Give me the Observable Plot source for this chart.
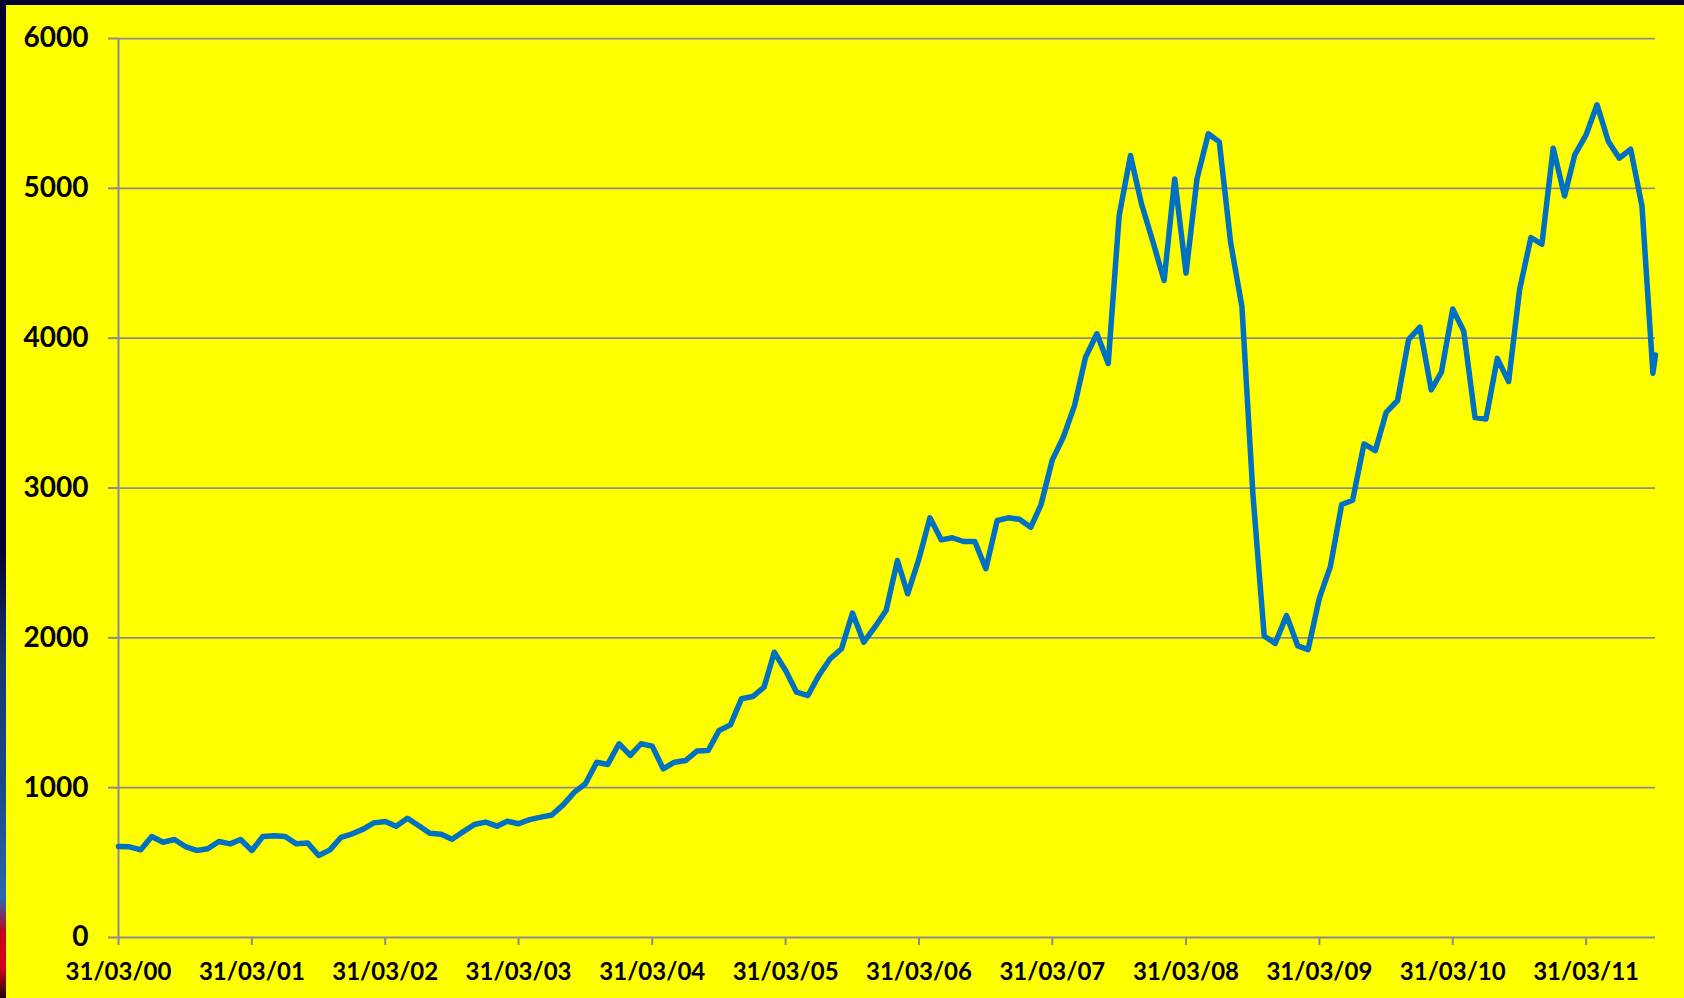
<!DOCTYPE html>
<html>
<head>
<meta charset="utf-8">
<script src="https://cdn.jsdelivr.net/npm/d3@7"></script>
<script src="https://cdn.jsdelivr.net/npm/@observablehq/plot@0.6"></script>
<style>
  html, body { margin: 0; padding: 0; }
  body { width: 1684px; height: 998px; position: relative; overflow: hidden; background: #ffff00; }
  #chart { position: absolute; left: 0; top: 0; }
  #topBorder { position: absolute; left: 0; top: 0; width: 1684px; height: 5px; background: #06002e; }
  #leftBorder { position: absolute; left: 0; top: 0; width: 6px; height: 998px;
    background: linear-gradient(to bottom, #06002e 0%, #06002e 55%, #163670 66%, #1d4a8e 80%, #2b66b0 90%, #c4001c 93.5%, #d0001e 97%, #1a0a10 100%); }
</style>
</head>
<body>
<div id="chart"></div>
<div id="topBorder"></div>
<div id="leftBorder"></div>
<script>
// Monthly end-of-month values from 31/03/2000 to 30/09/2011
const firstDate = "2000-03-31";
const lastExtraDate = "2011-10-07";
const monthlyValues = [
  607, 605, 585, 674, 636, 654, 607, 581, 592, 641, 625, 654,      // 2000-03 .. 2001-02
  581, 674, 679, 674, 625, 630, 547, 585, 669, 692, 725, 765,      // 2001-03 .. 2002-02
  774, 743, 796, 747, 696, 689, 656, 707, 754, 770, 743, 776,      // 2002-03 .. 2003-02
  759, 787, 803, 818, 885, 970, 1026, 1170, 1155, 1293, 1215, 1293,// 2003-03 .. 2004-02
  1277, 1126, 1170, 1181, 1244, 1248, 1382, 1419, 1593, 1608, 1671, 1904, // 2004-03 .. 2005-02
  1782, 1637, 1615, 1749, 1860, 1927, 2165, 1971, 2071, 2182, 2516, 2294, // 2005-03 .. 2006-02
  2527, 2801, 2654, 2668, 2643, 2643, 2461, 2783, 2801, 2791, 2738, 2888, // 2006-03 .. 2007-02
  3188, 3339, 3551, 3873, 4029, 3831, 4819, 5219, 4897, 4647, 4385, 5063, // 2007-03 .. 2008-02
  4434, 5063, 5364, 5310, 4640, 4210, 2960, 2012, 1963, 2149, 1946, 1921, // 2008-03 .. 2009-02
  2265, 2475, 2890, 2918, 3294, 3249, 3505, 3584, 3990, 4074, 3655, 3773, // 2009-03 .. 2010-02
  4195, 4048, 3470, 3460, 3865, 3710, 4324, 4672, 4627, 5268, 4949, 5223, // 2010-03 .. 2011-02
  5357, 5558, 5313, 5201, 5261, 4882, 3766                               // 2011-03 .. 2011-09
];
const lastExtraValue = 3888;

const yTicks = [0, 1000, 2000, 3000, 4000, 5000, 6000];
const xTickYears = [2000, 2001, 2002, 2003, 2004, 2005, 2006, 2007, 2008, 2009, 2010, 2011];

// Build the table
const start = new Date(firstDate + "T00:00:00Z");
const monthStartAfter = d3.utcMonth.offset(start, 0);
const data = monthlyValues.map((v, i) => ({
  date: d3.utcDay.offset(d3.utcMonth.offset(new Date(Date.UTC(2000, 3, 1)), i), -1),
  value: v
}));
data.push({date: new Date(lastExtraDate + "T00:00:00Z"), value: lastExtraValue});

const xTicks = xTickYears.map(y => new Date(Date.UTC(y, 2, 31)));
const fmt = d3.utcFormat("%d/%m/%y");
const grid = "#8c8c8c";

const chart = Plot.plot({
  width: 1684,
  height: 998,
  marginLeft: 118,
  marginRight: 29,
  marginTop: 38,
  marginBottom: 61,
  style: {background: "transparent", fontFamily: "Lato, 'Open Sans', sans-serif", fontWeight: "bold", color: "black", overflow: "visible"},
  x: {type: "utc", domain: [start, new Date(lastExtraDate + "T00:00:00Z")]},
  y: {domain: [0, 6000]},
  marks: [
    Plot.ruleY(yTicks.filter(d => d > 0), {stroke: grid, strokeWidth: 1.75}),
    Plot.ruleY([0], {stroke: grid, strokeWidth: 2}),
    Plot.ruleX([start], {y1: 0, y2: 6000, stroke: grid, strokeWidth: 2}),
    Plot.axisY({ticks: yTicks, tickSize: 10, tickPadding: 20, tickFormat: d3.format("d"), label: null,
      fontSize: 28, fontWeight: "bold", stroke: grid, strokeWidth: 2, fill: "black"}),
    Plot.axisX({ticks: xTicks, tickSize: 8, tickPadding: 17, tickFormat: fmt, label: null,
      fontSize: 24, fontWeight: "bold", stroke: grid, strokeWidth: 2, fill: "black"}),
    Plot.line(data, {x: "date", y: "value", stroke: "#0070C0", strokeWidth: 5.5, strokeLinejoin: "round", strokeLinecap: "round"})
  ]
});
document.getElementById("chart").appendChild(chart);
</script>
</body>
</html>
